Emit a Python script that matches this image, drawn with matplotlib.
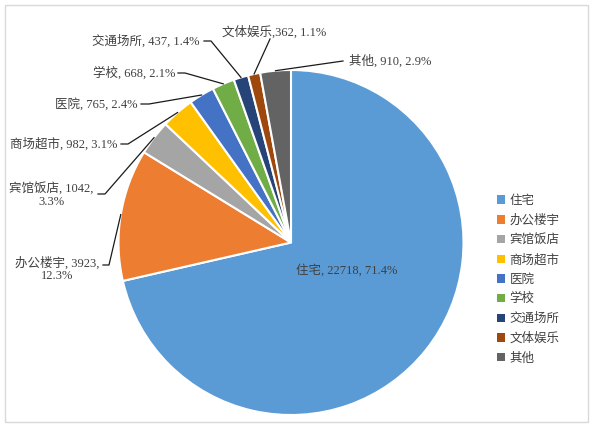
import matplotlib.pyplot as plt
from matplotlib.patches import Rectangle
import numpy as np

categories = ['住宅', '办公楼宇', '宾馆饭店', '商场超市', '医院', '学校', '交通场所', '文体娱乐', '其他']
values = [22718, 3923, 1042, 982, 765, 668, 437, 362, 910]
pcts = ['71.4%', '12.3%', '3.3%', '3.1%', '2.4%', '2.1%', '1.4%', '1.1%', '2.9%']
colors = ['#5B9BD5', '#ED7D31', '#A5A5A5', '#FFC000', '#4472C4',
          '#70AD47', '#264478', '#9E480E', '#636363']

FONT = ['Liberation Serif', 'Noto Sans CJK SC']
TXT = '#404040'
FS = 9

W, H = 592, 442
CX, CY, R = 291, 242.5, 172.5


def px(x, y):
    # pixel coords -> data coords (pie radius = 1)
    return (x - CX) / R, (CY - y) / R


fig = plt.figure(figsize=(W / 100, H / 100), dpi=100)
ax = fig.add_axes([0, 0, 1, 1])

wedges, _ = ax.pie(values, colors=colors, startangle=90, counterclock=False,
                   wedgeprops=dict(edgecolor='white', linewidth=1.5))
ax.set_aspect('auto')
ax.set_xlim(px(0, 0)[0], px(W, 0)[0])
ax.set_ylim(px(0, H)[1], px(0, 0)[1])
ax.axis('off')

# outer frame
fig.patches.append(Rectangle((5 / W, 1 - 422 / H), 583 / W, 417 / H,
                             transform=fig.transFigure, fill=False,
                             edgecolor='#D9D9D9', linewidth=1))

# label layout: text anchor (px), ha, elbow points (px)
layout = {
    '办公楼宇': dict(xy=(57, 269), ha='center', path=[(109, 265), (103, 265)], wrap=True),
    '宾馆饭店': dict(xy=(51, 195), ha='center', path=[(105, 194), (98, 194)], wrap=True),
    '商场超市': dict(xy=(117, 144), ha='right', path=[(128, 144), (121, 144)]),
    '医院': dict(xy=(138, 104), ha='right', path=[(149, 104), (141, 104)]),
    '学校': dict(xy=(175, 73), ha='right', path=[(185, 73), (178, 73)]),
    '交通场所': dict(xy=(200, 41), ha='right', path=[(211, 41), (204, 41)]),
    '文体娱乐': dict(xy=(222, 32), ha='left', path=[(270, 39)], sep=','),
    '其他': dict(xy=(349, 61), ha='left', path=[(343, 61)]),
}

total = sum(values)
cum = 0
for name, v, p in zip(categories, values, pcts):
    mid = (cum + v / 2) / total * 2 * np.pi
    cum += v
    if name == '住宅':
        ax.text(*px(347, 270), f'{name}, {v}, {p}', ha='center', va='center',
                fontsize=FS, family=FONT, color=TXT)
        continue
    L = layout[name]
    x0, y0 = np.sin(mid), np.cos(mid)
    pts = [(x0, y0)] + [px(*q) for q in L['path']]
    ax.plot([q[0] for q in pts], [q[1] for q in pts], color='#1a1a1a', lw=0.9)
    sep = L.get('sep', ', ')
    if L.get('wrap'):
        s = f'{name}, {v},\n{p}'
    else:
        s = f'{name}{sep}{v}, {p}'
    ax.text(*px(*L['xy']), s, ha=L['ha'], va='center', fontsize=FS,
            family=FONT, color=TXT, multialignment='center', linespacing=1.05)

leg = fig.legend(wedges, categories, loc='upper left',
                 bbox_to_anchor=(497 / W, 1 - 195 / H), frameon=False,
                 borderpad=0, borderaxespad=0, handlelength=0.65, handleheight=0.65,
                 handletextpad=0.35, labelspacing=0.6,
                 prop=dict(family=FONT, size=FS))
for t in leg.get_texts():
    t.set_color(TXT)
for h in leg.legend_handles:
    h.set_edgecolor('none')

fig.savefig('out.png', dpi=100)
